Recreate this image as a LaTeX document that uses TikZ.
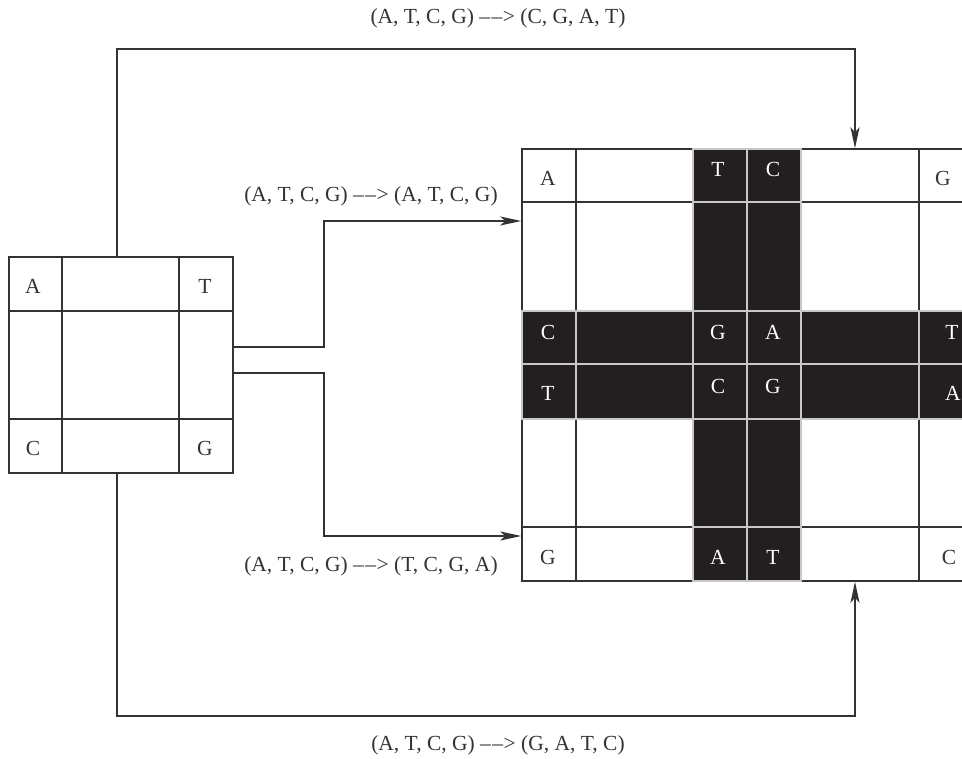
\documentclass[tikz,border=0pt]{standalone}
\usepackage{fontspec}
\setmainfont{Liberation Serif}
\usetikzlibrary{arrows.meta}
\definecolor{ink}{HTML}{231F20}
\definecolor{gridline}{HTML}{333333}
\definecolor{sep}{HTML}{C8C8C8}
\newcommand{\maparrow}{\textendash\kern1.5pt\textendash\kern0.5pt{}>}

\begin{document}
\begin{tikzpicture}[x=1pt,y=-1pt,
  every node/.style={font=\fontsize{21.5}{24}\selectfont, inner sep=0pt},
  frame/.style={draw=gridline, line width=1.5pt},
  darkcell/.style={fill=ink, draw=sep, line width=1.2pt},
  letter/.style={text=gridline},
  wletter/.style={text=white},
  conn/.style={draw=gridline, line width=1.5pt},
  tip/.style={-{Stealth[length=21pt,width=9pt,inset=5pt]}},
  maplabel/.style={text=gridline}
]
\useasboundingbox (0,0) rectangle (962,759);
\clip (0,0) rectangle (962,759);

% ---- source square (left) ----
\node[frame, minimum width=224pt, minimum height=216pt] (lgrid) at (121,365) {};
\draw[frame] (62,257) -- (62,473) (179,257) -- (179,473)
             (9,311) -- (233,311) (9,419) -- (233,419);
\node[letter] (la) at (33,286) {A};
\node[letter] (lt) at (205,286) {T};
\node[letter] (lc) at (33,448) {C};
\node[letter] (lg) at (205,448) {G};

% ---- target cross (right) ----
\node[frame, minimum width=451pt, minimum height=432pt] (rgrid) at (747.5,365) {};
\foreach \xa/\xb in {522/576, 576/693, 693/747, 747/801, 801/919, 919/973}
  \foreach \ya/\yb in {149/202, 202/311, 311/364, 364/419, 419/527, 527/581}
    \draw[frame] (\xa,\ya) rectangle (\xb,\yb);
\foreach \xa/\xb/\i in {522/576/1, 576/693/2, 693/747/3, 747/801/4, 801/919/5, 919/973/6}
  \foreach \ya/\yb/\j in {149/202/1, 202/311/2, 311/364/3, 364/419/4, 419/527/5, 527/581/6} {
    \pgfmathtruncatemacro\isdark{(\i==3 || \i==4 || \j==3 || \j==4) ? 1 : 0}
    \ifnum\isdark=1
      \draw[darkcell] (\xa,\ya) rectangle (\xb,\yb);
    \fi
  }

% letters, top row
\node[letter]  (r1a) at (548,178) {A};
\node[wletter] (r1t) at (718,169) {T};
\node[wletter] (r1c) at (773,169) {C};
\node[letter]  (r1g) at (943,178) {G};
% letters, third row
\node[wletter] (r3c) at (548,332) {C};
\node[wletter] (r3g) at (718,332) {G};
\node[wletter] (r3a) at (773,332) {A};
\node[wletter] (r3t) at (952,332) {T};
% letters, fourth row
\node[wletter] (r4t) at (548,393) {T};
\node[wletter] (r4c) at (718,386) {C};
\node[wletter] (r4g) at (773,386) {G};
\node[wletter] (r4a) at (953,393) {A};
% letters, bottom row
\node[letter]  (r6g) at (548,557) {G};
\node[wletter] (r6a) at (718,557) {A};
\node[wletter] (r6t) at (773,557) {T};
\node[letter]  (r6c) at (949,557) {C};

% ---- connectors ----
\draw[conn,tip] ([xshift=-4pt]lgrid.north) -- ++(0,-207) -| ([xshift=107.5pt]rgrid.north);
\draw[conn,tip] ([xshift=-4pt]lgrid.south) -- ++(0,242) -| ([xshift=107.5pt]rgrid.south);
\draw[conn,tip] ([yshift=18pt]lgrid.east) -- ++(90,0) |- ([yshift=144pt]rgrid.west);
\draw[conn,tip] ([yshift=-8pt]lgrid.east) -- ++(90,0) |- ([yshift=-171pt]rgrid.west);

% ---- mapping labels ----
\node[maplabel] (m1) at (498,18)  {(A, T, C, G) \maparrow\ (C, G, A, T)};
\node[maplabel] (m2) at (371,196) {(A, T, C, G) \maparrow\ (A, T, C, G)};
\node[maplabel] (m3) at (371,566) {(A, T, C, G) \maparrow\ (T, C, G, A)};
\node[maplabel] (m4) at (498,745) {(A, T, C, G) \maparrow\ (G, A, T, C)};
\end{tikzpicture}
\end{document}
